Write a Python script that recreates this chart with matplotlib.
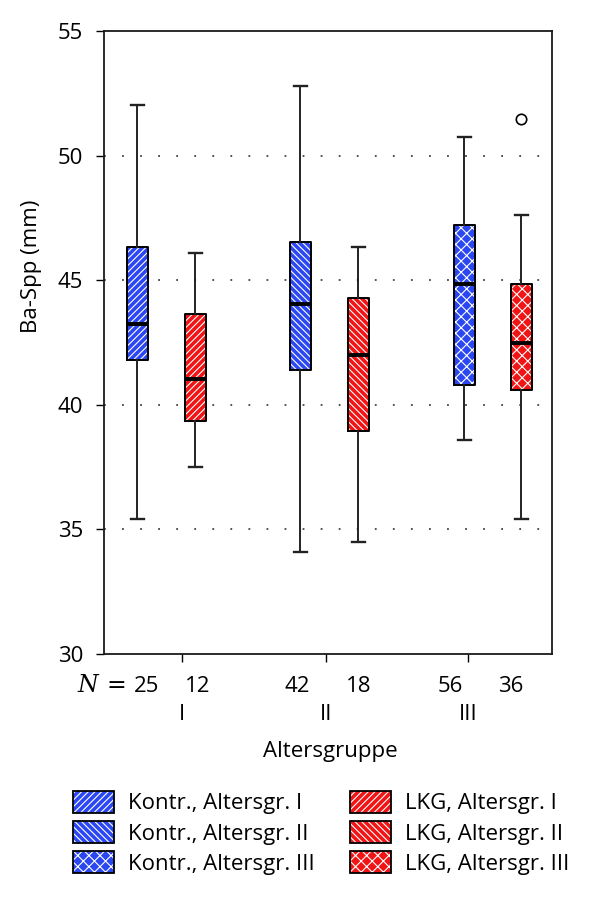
import matplotlib
matplotlib.use('Agg')
import matplotlib.pyplot as plt
from matplotlib.patches import Patch
from matplotlib.transforms import blended_transform_factory

# ---- data ----
box_labels = ['Kontr., Altersgr. I', 'LKG, Altersgr. I',
              'Kontr., Altersgr. II', 'LKG, Altersgr. II',
              'Kontr., Altersgr. III', 'LKG, Altersgr. III']
whislo = [35.4, 37.5, 34.1, 34.5, 38.6, 35.4]
q1 = [41.8, 39.35, 41.4, 38.95, 40.8, 40.6]
med = [43.25, 41.05, 44.05, 42.0, 44.85, 42.5]
q3 = [46.35, 43.65, 46.55, 44.3, 47.2, 44.85]
whishi = [52.05, 46.1, 52.8, 46.35, 50.75, 47.6]
fliers = [[], [], [], [], [], [51.45]]
n_values = ['25', '12', '42', '18', '56', '36']
group_labels = ['I', 'II', 'III']
y_ticks = [30, 35, 40, 45, 50, 55]

# ---- layout / style ----
box_x = [137, 195, 300, 358, 464, 521]
group_x = [182, 326, 468]
n_x = [147, 198, 297, 359, 450, 511]
blue = '#2b47f2'
red = '#f01414'
colors = [blue, red, blue, red, blue, red]
hatches = ['/////', '/////', '\\\\\\\\\\', '\\\\\\\\\\', 'xxx', 'xxx']
FS = 16

plt.rcParams['font.family'] = ['Open Sans', 'DejaVu Sans']
plt.rcParams['hatch.linewidth'] = 0.8

W, H = 600, 898
fig = plt.figure(figsize=(W / 100, H / 100), dpi=100)
ax = fig.add_axes([104 / W, 1 - 654 / H, 448 / W, 623 / H])
ax.set_xlim(104, 552)
ax.set_ylim(30, 55)

stats = []
for i in range(6):
    stats.append(dict(label=box_labels[i], whislo=whislo[i], q1=q1[i], med=med[i],
                      q3=q3[i], whishi=whishi[i], fliers=fliers[i]))

# layer 1: hatched filled boxes
b1 = ax.bxp(stats, positions=box_x, widths=21, patch_artist=True, showcaps=False,
            showfliers=False, whiskerprops=dict(linewidth=0),
            medianprops=dict(linewidth=0), manage_ticks=False, zorder=2)
for p, c, h in zip(b1['boxes'], colors, hatches):
    p.set_facecolor(c)
    p.set_edgecolor('white')
    p.set_linewidth(0)
    p.set_hatch(h)

# layer 2: outlines, whiskers, caps, medians, outliers
ax.bxp(stats, positions=box_x, widths=21, patch_artist=False, capwidths=13,
       boxprops=dict(color='black', linewidth=1.4),
       whiskerprops=dict(color='#222222', linewidth=1.4),
       capprops=dict(color='#222222', linewidth=1.7),
       medianprops=dict(color='black', linewidth=2.8),
       flierprops=dict(marker='o', markersize=7.5, markerfacecolor='none',
                       markeredgecolor='black', markeredgewidth=1.2),
       manage_ticks=False, zorder=3)

# grid
for yv in y_ticks[1:-1]:
    ax.axhline(yv, color='#444444', linewidth=1.3, linestyle=(0, (1, 9)), zorder=1)

for s in ax.spines.values():
    s.set_linewidth(1.3)
    s.set_color('#1a1a1a')

ax.set_yticks(y_ticks)
ax.set_yticklabels([str(v) for v in y_ticks], fontsize=FS)
ax.tick_params(axis='y', direction='out', length=6, width=1, pad=9)
ax.set_xticks(group_x)
ax.set_xticklabels(group_labels, fontsize=FS)
ax.tick_params(axis='x', direction='out', length=6, width=1, pad=30)

# N row
trans = blended_transform_factory(ax.transData, fig.transFigure)
yN = 1 - 686 / H
ax.text(88, yN, 'N', transform=trans, ha='center', va='center',
        fontsize=17, family=['DejaVu Serif'], style='italic', clip_on=False)
ax.text(116, yN, '=', transform=trans, ha='center', va='center',
        fontsize=17, family=['DejaVu Serif'], clip_on=False)
for x, n in zip(n_x, n_values):
    ax.text(x, yN, n, transform=trans, ha='center', va='center', fontsize=FS,
            clip_on=False)

fig.text(330 / W, 1 - 752 / H, 'Altersgruppe', ha='center', va='center', fontsize=FS)
fig.text(31 / W, 1 - 266 / H, 'Ba-Spp (mm)', ha='center', va='center',
         rotation=90, fontsize=FS)

# legend
order = [0, 2, 4, 1, 3, 5]
handles = []
for i in order:
    handles.append((Patch(facecolor=colors[i], edgecolor='white', linewidth=0, hatch=hatches[i]),
                    Patch(facecolor='none', edgecolor='black', linewidth=1.3)))
fig.legend(handles, [box_labels[i] for i in order], ncol=2, loc='upper left',
           bbox_to_anchor=(55 / W, 1 - 773 / H), frameon=False, fontsize=FS,
           handlelength=1.85, handleheight=1.15, handletextpad=0.65,
           labelspacing=0.3, columnspacing=1.55, borderpad=0.3)

fig.savefig('out.png', dpi=100)
